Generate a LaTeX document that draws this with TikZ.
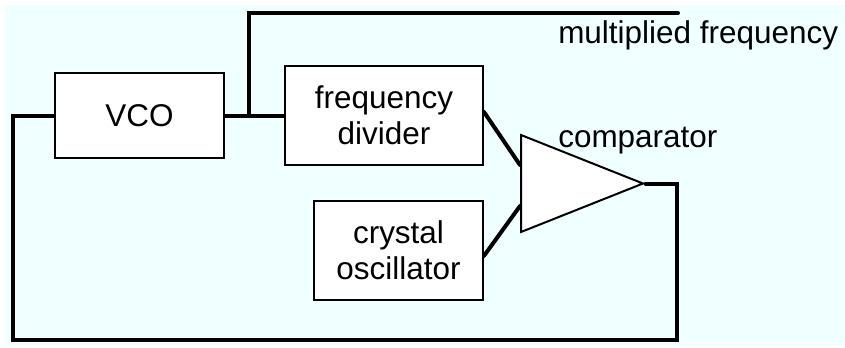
\documentclass[tikz,border=0pt]{standalone}
\usepackage{fontspec}
\setmainfont{Liberation Sans}
\usepackage{tikz}
\usetikzlibrary{shapes.geometric,positioning}
\definecolor{bgcyan}{RGB}{240,255,255}
\tikzset{
  blk/.style={rectangle, draw=black, fill=white, line width=1.5pt, align=center, inner sep=0pt, font=\fontsize{23.6}{27}\selectfont},
  cmpbox/.style={isosceles triangle, isosceles triangle stretches, shape border rotate=0, draw=black, fill=white, line width=1.5pt, inner sep=0pt, minimum width=72.75pt, minimum height=91.5pt},
  wire/.style={line width=3pt, line cap=round, line join=miter},
  lbl/.style={inner sep=0pt, anchor=base west, font=\fontsize{23.6}{27}\selectfont}
}

\begin{document}
\begin{tikzpicture}[x=0.75pt, y=-0.75pt]
\useasboundingbox (0,0) rectangle (845,347);
\fill[bgcyan] (5,5) rectangle (845,345);
\node[blk, minimum width=126.75pt, minimum height=63.75pt] (vco) at (139.5,115.5) {VCO};
\node[blk, minimum width=148.5pt, minimum height=74.25pt] (div) at (384,115.5) {frequency\\divider};
\node[blk, minimum width=126.75pt, minimum height=74.25pt] (xtal) at (398.5,250.5) {crystal\\oscillator};
\node[cmpbox, anchor=west] (cmp) at (520,183.5) {};
\coordinate (in1) at (520,165);
\coordinate (in2) at (520,206);
\coordinate (br) at (249,114.5);
\coordinate (mfend) at (678,13);
\coordinate (fbR) at (677,340);
\coordinate (fbL) at (13,340);
\node[lbl] (mflbl) at (558,43) {multiplied frequency};
\node[lbl] (cmplbl) at (558,147) {comparator};
\draw[wire] (vco.east) -- (div.west);
\draw[wire] (br) |- (mfend);
\draw[wire] ([yshift=2.6pt]div.east) -- (in1);
\draw[wire] ([yshift=-4pt]xtal.east) -- (in2);
\draw[wire] (cmp.apex) -| (fbR) -- (fbL) |- (vco.west);
\end{tikzpicture}
\end{document}
